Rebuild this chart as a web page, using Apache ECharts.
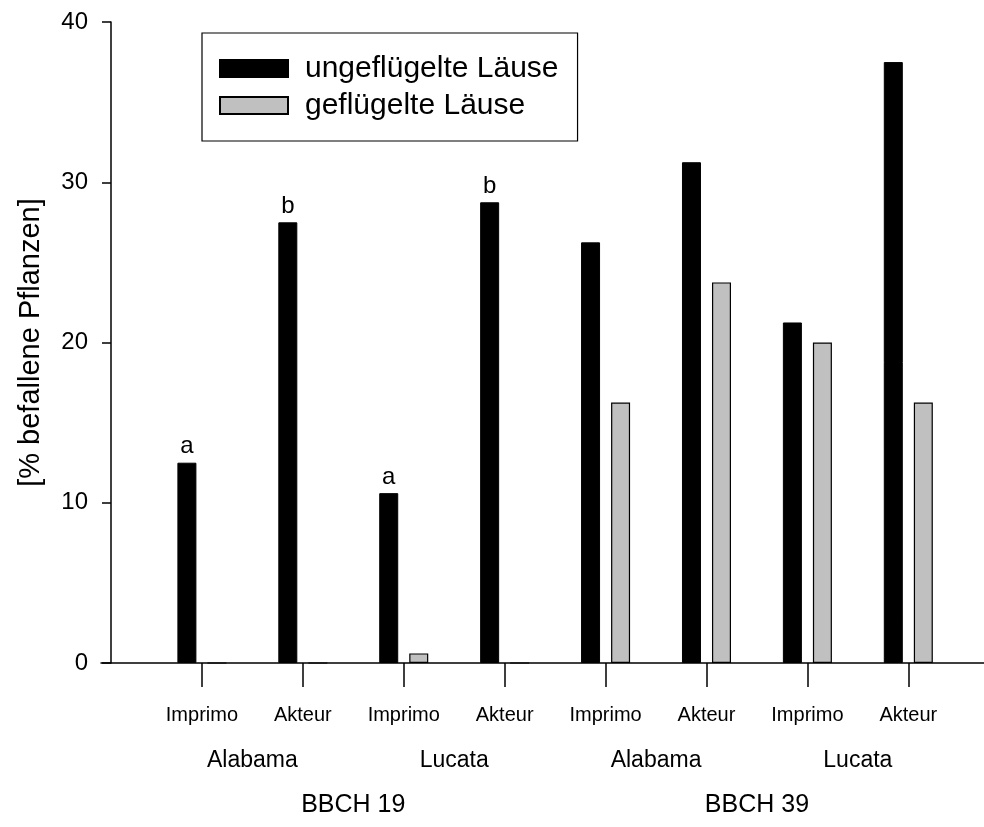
<!DOCTYPE html>
<html>
<head>
<meta charset="utf-8">
<script src="https://cdn.jsdelivr.net/npm/echarts@6/dist/echarts.min.js"></script>
<style>html,body{margin:0;padding:0;background:#fff}#c{width:984px;height:827px}</style>
</head>
<body>
<div id="c"></div>
<script>
// Data
const positions = [1, 2, 3, 4, 5, 6, 7, 8];
const cultivars = ['Imprimo', 'Akteur', 'Imprimo', 'Akteur', 'Imprimo', 'Akteur', 'Imprimo', 'Akteur'];
const varietyPos = [1.5, 3.5, 5.5, 7.5];
const varieties = ['Alabama', 'Lucata', 'Alabama', 'Lucata'];
const stagePos = [2.5, 6.5];
const stages = ['BBCH 19', 'BBCH 39'];
const seriesNames = ['ungeflügelte Läuse', 'geflügelte Läuse'];
const wingless = [12.5, 27.5, 10.6, 28.75, 26.25, 31.25, 21.25, 37.5];
const winged = [0, 0, 0.6, 0, 16.25, 23.75, 20, 16.25];
const letters = ['a', 'b', 'a', 'b', '', '', '', ''];
const yTicks = [0, 10, 20, 30, 40];

const FONT = 'Liberation Sans, Arial, sans-serif';
const chart = echarts.init(document.getElementById('c'), null, {renderer: 'canvas'});

function lookup(posArr, labels) {
  return function (v) {
    for (let i = 0; i < posArr.length; i++) {
      if (Math.abs(posArr[i] - v) < 1e-6) return labels[i];
    }
    return '';
  };
}

const option = {
  animation: false,
  backgroundColor: '#fff',
  textStyle: {fontFamily: FONT, color: '#000'},
  grid: {left: 101, right: 0, top: 22, bottom: 164, containLabel: false},
  legend: {
    orient: 'vertical',
    left: 202, top: 33,
    padding: [20, 19, 20, 17],
    borderColor: '#000', borderWidth: 1.2,
    backgroundColor: '#fff',
    itemWidth: 68, itemHeight: 17, itemGap: 6,
    icon: 'rect',
    data: seriesNames,
    formatter: n => '{t|' + n + '}',
    textStyle: {
      fontFamily: FONT, fontSize: 30, color: '#000', lineHeight: 31,
      rich: {t: {fontFamily: FONT, fontSize: 30, color: '#000', lineHeight: 31, padding: [0, 0, 0, 12]}}
    }
  },
  xAxis: [
    {
      type: 'value', min: 0, max: 8.75, position: 'bottom', offset: 0,
      axisLine: {show: true, onZero: false, lineStyle: {color: '#000', width: 1.5}},
      axisTick: {show: true, inside: false, length: 24, customValues: positions, lineStyle: {color: '#000', width: 1.5}},
      axisLabel: {customValues: positions, margin: 42, fontSize: 20, fontFamily: FONT, color: '#000',
        formatter: lookup(positions, cultivars)},
      splitLine: {show: false}
    },
    {
      type: 'value', min: 0, max: 8.75, position: 'bottom', offset: 0,
      axisLine: {show: false}, axisTick: {show: false}, splitLine: {show: false},
      axisLabel: {customValues: varietyPos, margin: 86, fontSize: 23, fontFamily: FONT, color: '#000',
        formatter: lookup(varietyPos, varieties)}
    },
    {
      type: 'value', min: 0, max: 8.75, position: 'bottom', offset: 0,
      axisLine: {show: false}, axisTick: {show: false}, splitLine: {show: false},
      axisLabel: {customValues: stagePos, margin: 130, fontSize: 25, fontFamily: FONT, color: '#000',
        formatter: lookup(stagePos, stages)}
    }
  ],
  yAxis: {
    type: 'value', min: 0, max: 40, interval: 10, offset: -10,
    name: '[% befallene Pflanzen]', nameLocation: 'middle', nameGap: 66,
    nameTextStyle: {fontSize: 29, fontFamily: FONT, color: '#000'},
    axisLine: {show: true, lineStyle: {color: '#000', width: 1.5}},
    axisTick: {show: true, inside: false, length: 9, lineStyle: {color: '#000', width: 1.5}},
    axisLabel: {fontSize: 24, fontFamily: FONT, color: '#000', margin: 23,
      formatter: v => yTicks.indexOf(v) >= 0 ? String(v) : ''},
    splitLine: {show: false}
  },
  series: [
    {
      name: seriesNames[0], type: 'bar', xAxisIndex: 0,
      barWidth: 19, barGap: '58%',
      itemStyle: {color: '#000', borderColor: '#000', borderWidth: 1},
      data: positions.map((p, i) => [p, wingless[i]]),
      label: {
        show: true, position: 'top', distance: 4, fontSize: 24, fontFamily: FONT, color: '#000',
        formatter: p => letters[p.dataIndex]
      }
    },
    {
      name: seriesNames[1], type: 'bar', xAxisIndex: 0,
      barWidth: 19, barGap: '58%',
      itemStyle: {color: '#c0c0c0', borderColor: '#000', borderWidth: 1.2},
      data: positions.map((p, i) => [p, winged[i]])
    }
  ]
};
chart.setOption(option);
</script>
</body>
</html>
